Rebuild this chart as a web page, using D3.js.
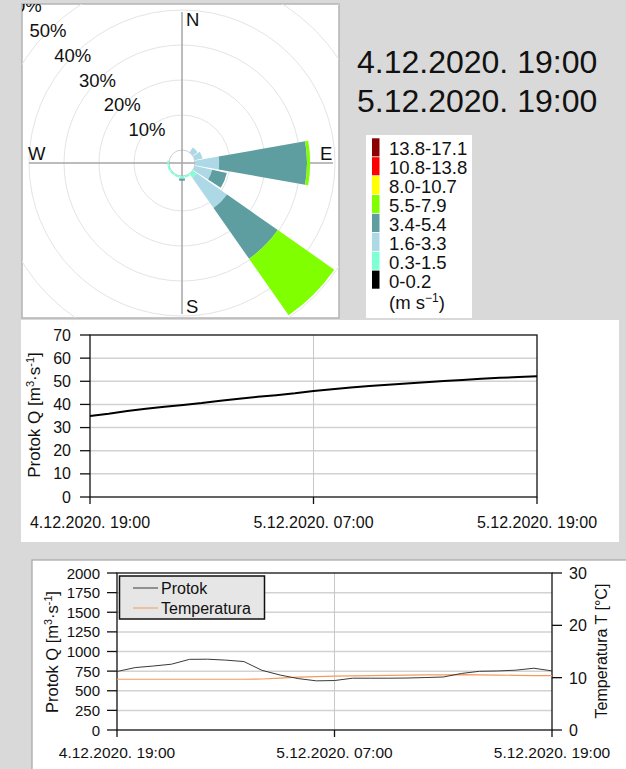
<!DOCTYPE html>
<html>
<head>
<meta charset="utf-8">
<script src="https://cdn.jsdelivr.net/npm/d3@7"></script>
<style>
  html, body { margin: 0; padding: 0; background: #d9d9d9; }
  svg { display: block; font-family: "Liberation Sans", Arial, sans-serif; }
</style>
</head>
<body>
<svg id="fig" width="626" height="769"></svg>
<script>
// ---------------- Wind rose data (frequency, % of time) ----------------
const directions = ["N","NNE","NE","ENE","E","ESE","SE","SSE","S","SSW","SW","WSW","W","WNW","NW","NNW"];
const speedClasses = ["0-0.2","0.3-1.5","1.6-3.3","3.4-5.4","5.5-7.9","8.0-10.7","10.8-13.8","13.8-17.1"];
const speedColors  = ["#000000","#7fffd4","#add8e6","#5f9ea0","#7fff00","#ffff00","#ff0000","#8b0000"];
//                      N  NNE  NE   ENE  E     ESE  SE    SSE  S     SSW  SW   WSW  W    WNW NW NNW
const freq_0_02   = [0, 0,   0,   0,   0,    0,   0,    0,   0,    0,   0,   0,   0,   0,  0, 0];
const freq_03_15  = [0, 0,   0,   0,   0,    0,   1.4,  0.5, 0.5,  0.5, 0.5, 0.5, 0.5, 0,  0, 0];
const freq_16_33  = [0, 0,   1.7, 2.3, 6.9,  5.1, 10.6, 0,   0.3,  0,   0,   0,   0,   0,  0, 0];
const freq_34_54  = [0, 0,   0,   0,   25.1, 4.3, 17.7, 0,   0.55, 0,   0,   0,   0,   0,  0, 0];
const freq_55_79  = [0, 0,   0,   0,   0.9,  0,   19.7, 0,   0,    0,   0,   0,   0,   0,  0, 0];
const freq_80_107 = [0, 0,   0,   0,   0,    0,   0,    0,   0,    0,   0,   0,   0,   0,  0, 0];
const freq_108_138= [0, 0,   0,   0,   0,    0,   0,    0,   0,    0,   0,   0,   0,   0,  0, 0];
const freq_138_171= [0, 0,   0,   0,   0,    0,   0,    0,   0,    0,   0,   0,   0,   0,  0, 0];
const freqBySpeed = [freq_0_02, freq_03_15, freq_16_33, freq_34_54, freq_55_79, freq_80_107, freq_108_138, freq_138_171];

const ringPercents = [0, 10, 20, 30, 40, 50, 60];
const compass = [["N", 0], ["E", 90], ["S", 180], ["W", 270]];
const periodLines = ["4.12.2020. 19:00", "5.12.2020. 19:00"];
const speedUnit = "(m s";

// ---------------- Hydrograph data ----------------
const hoursElapsed = [0,1,2,3,4,5,6,7,8,9,10,11,12,13,14,15,16,17,18,19,20,21,22,23,24];
const timeTicks = [0, 12, 24];
const timeTickLabels = ["4.12.2020. 19:00", "5.12.2020. 07:00", "5.12.2020. 19:00"];

// upper panel discharge (m3/s)
const dischargeUpper = [35.0,36.0,37.2,38.1,39.0,39.8,40.6,41.6,42.5,43.3,44.0,44.8,45.8,
                        46.6,47.3,48.0,48.5,49.0,49.6,50.1,50.6,51.1,51.5,51.8,52.2];
const upperTicks = [0,10,20,30,40,50,60,70];

// lower panel discharge (m3/s) and water temperature (°C)
const dischargeLower = [745,795,815,838,900,902,890,872,760,700,655,626,630,
                        660,660,660,662,668,675,720,748,752,762,787,753];
const temperatureLower = [9.7,9.7,9.7,9.7,9.7,9.7,9.7,9.7,9.75,9.9,10.1,10.2,10.3,
                          10.35,10.4,10.45,10.5,10.55,10.55,10.6,10.55,10.5,10.45,10.4,10.4];
const lowerQTicks = [0,250,500,750,1000,1250,1500,1750,2000];
const lowerTTicks = [0,10,20,30];
const legendNames = ["Protok", "Temperatura"];
const legendColors = ["#3a3a3a", "#f59a5a"];

const svg = d3.select("#fig");

// =================== WIND ROSE ===================
const rosePanel = {x: 22, y: 4, w: 317, h: 314};
const cx = 182, cy = 163;
svg.append("defs").append("clipPath").attr("id", "roseClip")
  .append("rect").attr("x", rosePanel.x).attr("y", rosePanel.y)
  .attr("width", rosePanel.w).attr("height", rosePanel.h);

svg.append("rect").attr("x", rosePanel.x).attr("y", rosePanel.y)
  .attr("width", rosePanel.w).attr("height", rosePanel.h)
  .attr("fill", "#fff").attr("stroke", "#b4b4b4").attr("stroke-width", 1.5);

const rose = svg.append("g").attr("clip-path", "url(#roseClip)");
const rScale = d3.scaleLinear().domain([0, 60]).range([13, 223]);

// rings
rose.selectAll("circle.ring").data(ringPercents).enter().append("circle")
  .attr("class", "ring").attr("cx", cx).attr("cy", cy)
  .attr("r", d => rScale(d)).attr("fill", "none")
  .attr("stroke", d => d === 0 ? "#cfcfcf" : "#e4e4e4").attr("stroke-width", 1);

// crosshair
const crossLen = 151;
rose.append("line").attr("x1", cx).attr("x2", cx).attr("y1", cy - crossLen).attr("y2", cy + crossLen)
  .attr("stroke", "#a6a6a6").attr("stroke-width", 1.5);
rose.append("line").attr("x1", cx - crossLen - 2).attr("x2", cx + crossLen).attr("y1", cy).attr("y2", cy)
  .attr("stroke", "#a6a6a6").attr("stroke-width", 1.5);

// ring labels along the NW diagonal
rose.selectAll("text.ringlab").data(ringPercents.filter(d => d > 0)).enter().append("text")
  .attr("class", "ringlab")
  .attr("x", d => cx - rScale(d) * Math.SQRT1_2 - 1)
  .attr("y", d => cy - rScale(d) * Math.SQRT1_2 + 7)
  .attr("text-anchor", "middle").attr("font-size", 18.5).attr("fill", "#111")
  .text(d => d + "%");

// petals (stacked by speed class)
const halfWidth = 10 * Math.PI / 180;
const arc = d3.arc();
const petals = [];
directions.forEach((dir, i) => {
  let cum = 0;
  const ang = i * 22.5 * Math.PI / 180;
  freqBySpeed.forEach((arr, k) => {
    const v = arr[i];
    if (v > 0) {
      petals.push({inner: cum, outer: cum + v, ang, color: speedColors[k]});
      cum += v;
    }
  });
});
rose.append("g").attr("transform", `translate(${cx},${cy})`)
  .selectAll("path").data(petals).enter().append("path")
  .attr("d", d => arc({innerRadius: rScale(d.inner), outerRadius: rScale(d.outer),
                       startAngle: d.ang - halfWidth, endAngle: d.ang + halfWidth}))
  .attr("fill", d => d.color);

// compass letters
const compassPos = {N: [186, 26], E: [320, 160], S: [186, 313], W: [28, 160]};
rose.selectAll("text.cmp").data(compass).enter().append("text")
  .attr("class", "cmp")
  .attr("x", d => compassPos[d[0]][0]).attr("y", d => compassPos[d[0]][1])
  .attr("font-size", 18.5).attr("fill", "#111").text(d => d[0]);

// period title
svg.selectAll("text.period").data(periodLines).enter().append("text")
  .attr("class", "period").attr("x", 357).attr("y", (d, i) => 73 + i * 39)
  .attr("font-size", 32).attr("fill", "#111").text(d => d);

// speed legend
const leg = svg.append("g");
leg.append("rect").attr("x", 366).attr("y", 135).attr("width", 106).attr("height", 183).attr("fill", "#fff");
const legOrder = d3.range(speedClasses.length).reverse();
const rowH = 18.9, rowTop = 138.3;
leg.selectAll("rect.sw").data(legOrder).enter().append("rect")
  .attr("class", "sw").attr("x", 372).attr("y", (d, i) => rowTop + i * rowH)
  .attr("width", 7.5).attr("height", rowH - 0.8).attr("fill", d => speedColors[d]);
leg.selectAll("text.swl").data(legOrder).enter().append("text")
  .attr("class", "swl").attr("x", 389).attr("y", (d, i) => rowTop + i * rowH + 17)
  .attr("font-size", 18.5).attr("fill", "#111").text(d => speedClasses[d]);
const unit = leg.append("text").attr("x", 389).attr("y", 309)
  .attr("font-size", 18.5).attr("fill", "#111");
unit.append("tspan").text(speedUnit);
unit.append("tspan").attr("dy", -7).attr("font-size", 12).text("\u22121");
unit.append("tspan").attr("dy", 7).text(")");

// helper for the discharge axis title
function qTitle(sel, size) {
  sel.append("tspan").text("Protok Q [m");
  sel.append("tspan").attr("dy", -6).attr("font-size", size * 0.65).text("3");
  sel.append("tspan").attr("dy", 6).text("\u00B7s");
  sel.append("tspan").attr("dy", -6).attr("font-size", size * 0.65).text("-1");
  sel.append("tspan").attr("dy", 6).text("]");
}

// =================== UPPER HYDROGRAPH ===================
svg.append("rect").attr("x", 21).attr("y", 320).attr("width", 598).attr("height", 222).attr("fill", "#fff");
const xU = d3.scaleLinear().domain([0, 24]).range([90, 537]);
const yU = d3.scaleLinear().domain([0, 70]).range([497, 335]);
const gU = svg.append("g");
gU.selectAll("line.grid").data(upperTicks.filter(d => d > 0 && d < 70)).enter().append("line")
  .attr("x1", xU(0)).attr("x2", xU(24)).attr("y1", d => yU(d)).attr("y2", d => yU(d))
  .attr("stroke", "#d2d2d2").attr("stroke-width", 1.5);
gU.append("line").attr("x1", xU(12)).attr("x2", xU(12)).attr("y1", yU(70)).attr("y2", yU(0))
  .attr("stroke", "#c8c8c8").attr("stroke-width", 1);
// frame
gU.append("rect").attr("x", xU(0)).attr("y", yU(70)).attr("width", xU(24) - xU(0)).attr("height", yU(0) - yU(70))
  .attr("fill", "none").attr("stroke", "#111").attr("stroke-width", 1.3);
// y ticks + labels
gU.selectAll("line.yt").data(upperTicks).enter().append("line")
  .attr("x1", xU(0) - 10).attr("x2", xU(0)).attr("y1", d => yU(d)).attr("y2", d => yU(d))
  .attr("stroke", "#111").attr("stroke-width", 1.3);
gU.selectAll("text.yl").data(upperTicks).enter().append("text")
  .attr("x", 71).attr("y", d => yU(d) + 5.5).attr("text-anchor", "end")
  .attr("font-size", 16).attr("fill", "#111").text(d => d);
// x ticks + labels
gU.selectAll("line.xt").data(timeTicks).enter().append("line")
  .attr("x1", d => xU(d)).attr("x2", d => xU(d)).attr("y1", yU(0)).attr("y2", yU(0) + 7)
  .attr("stroke", "#111").attr("stroke-width", 1.3);
gU.selectAll("text.xl").data(timeTicks).enter().append("text")
  .attr("x", d => xU(d)).attr("y", 528).attr("text-anchor", "middle")
  .attr("font-size", 16).attr("fill", "#111").text((d, i) => timeTickLabels[i]);
qTitle(gU.append("text").attr("transform", "translate(40,415) rotate(-90)")
  .attr("text-anchor", "middle").attr("font-size", 17).attr("fill", "#111"), 17);
gU.append("path").datum(dischargeUpper)
  .attr("d", d3.line().x((d, i) => xU(hoursElapsed[i])).y(d => yU(d)))
  .attr("fill", "none").attr("stroke", "#000").attr("stroke-width", 2);

// =================== LOWER HYDROGRAPH ===================
svg.append("rect").attr("x", 32).attr("y", 560).attr("width", 600).attr("height", 220)
  .attr("fill", "#fff").attr("stroke", "#a6a6a6").attr("stroke-width", 1.2);
const xL = d3.scaleLinear().domain([0, 24]).range([117, 552]);
const yQ = d3.scaleLinear().domain([0, 2000]).range([730, 573]);
const yT = d3.scaleLinear().domain([0, 30]).range([730, 573]);
const gL = svg.append("g");
gL.selectAll("line.grid").data(lowerQTicks.filter(d => d > 0 && d < 2000)).enter().append("line")
  .attr("x1", xL(0)).attr("x2", xL(24)).attr("y1", d => yQ(d)).attr("y2", d => yQ(d))
  .attr("stroke", "#d2d2d2").attr("stroke-width", 1.5);
gL.append("line").attr("x1", xL(12)).attr("x2", xL(12)).attr("y1", yQ(2000)).attr("y2", yQ(0))
  .attr("stroke", "#c8c8c8").attr("stroke-width", 1);
gL.append("rect").attr("x", xL(0)).attr("y", yQ(2000)).attr("width", xL(24) - xL(0)).attr("height", yQ(0) - yQ(2000))
  .attr("fill", "none").attr("stroke", "#111").attr("stroke-width", 1.3);
gL.selectAll("line.yq").data(lowerQTicks).enter().append("line")
  .attr("x1", xL(0) - 10).attr("x2", xL(0)).attr("y1", d => yQ(d)).attr("y2", d => yQ(d))
  .attr("stroke", "#111").attr("stroke-width", 1.3);
gL.selectAll("text.yql").data(lowerQTicks).enter().append("text")
  .attr("x", 100).attr("y", d => yQ(d) + 5.5).attr("text-anchor", "end")
  .attr("font-size", 15).attr("fill", "#111").text(d => d);
gL.selectAll("line.yt").data(lowerTTicks).enter().append("line")
  .attr("x1", xL(24)).attr("x2", xL(24) + 10).attr("y1", d => yT(d)).attr("y2", d => yT(d))
  .attr("stroke", "#111").attr("stroke-width", 1.3);
gL.selectAll("text.ytl").data(lowerTTicks).enter().append("text")
  .attr("x", 569).attr("y", d => yT(d) + 6).attr("text-anchor", "start")
  .attr("font-size", 16).attr("fill", "#111").text(d => d);
gL.selectAll("line.xt").data(timeTicks).enter().append("line")
  .attr("x1", d => xL(d)).attr("x2", d => xL(d)).attr("y1", yQ(0)).attr("y2", yQ(0) + 7)
  .attr("stroke", "#111").attr("stroke-width", 1.3);
gL.selectAll("text.xl").data(timeTicks).enter().append("text")
  .attr("x", d => xL(d)).attr("y", 758).attr("text-anchor", "middle")
  .attr("font-size", 15.5).attr("fill", "#111").text((d, i) => timeTickLabels[i]);
qTitle(gL.append("text").attr("transform", "translate(58,652) rotate(-90)")
  .attr("text-anchor", "middle").attr("font-size", 16.5).attr("fill", "#111"), 16.5);
gL.append("text").attr("transform", "translate(607,651) rotate(-90)")
  .attr("text-anchor", "middle").attr("font-size", 16).attr("fill", "#111")
  .text("Temperatura T [\u00B0C]");

gL.append("path").datum(temperatureLower)
  .attr("d", d3.line().x((d, i) => xL(hoursElapsed[i])).y(d => yT(d)))
  .attr("fill", "none").attr("stroke", legendColors[1]).attr("stroke-width", 1.2);
gL.append("path").datum(dischargeLower)
  .attr("d", d3.line().x((d, i) => xL(hoursElapsed[i])).y(d => yQ(d)))
  .attr("fill", "none").attr("stroke", legendColors[0]).attr("stroke-width", 1);

// series legend
const sl = gL.append("g");
sl.append("rect").attr("x", 119.5).attr("y", 576).attr("width", 145).attr("height", 43)
  .attr("fill", "#e6e6e6").attr("stroke", "#111").attr("stroke-width", 1.5);
legendNames.forEach((name, i) => {
  const yy = 588 + i * 20;
  sl.append("line").attr("x1", 133).attr("x2", 158).attr("y1", yy).attr("y2", yy)
    .attr("stroke", legendColors[i]).attr("stroke-width", 1);
  sl.append("text").attr("x", 161).attr("y", yy + 6).attr("font-size", 16).attr("fill", "#111").text(name);
});
</script>
</body>
</html>
